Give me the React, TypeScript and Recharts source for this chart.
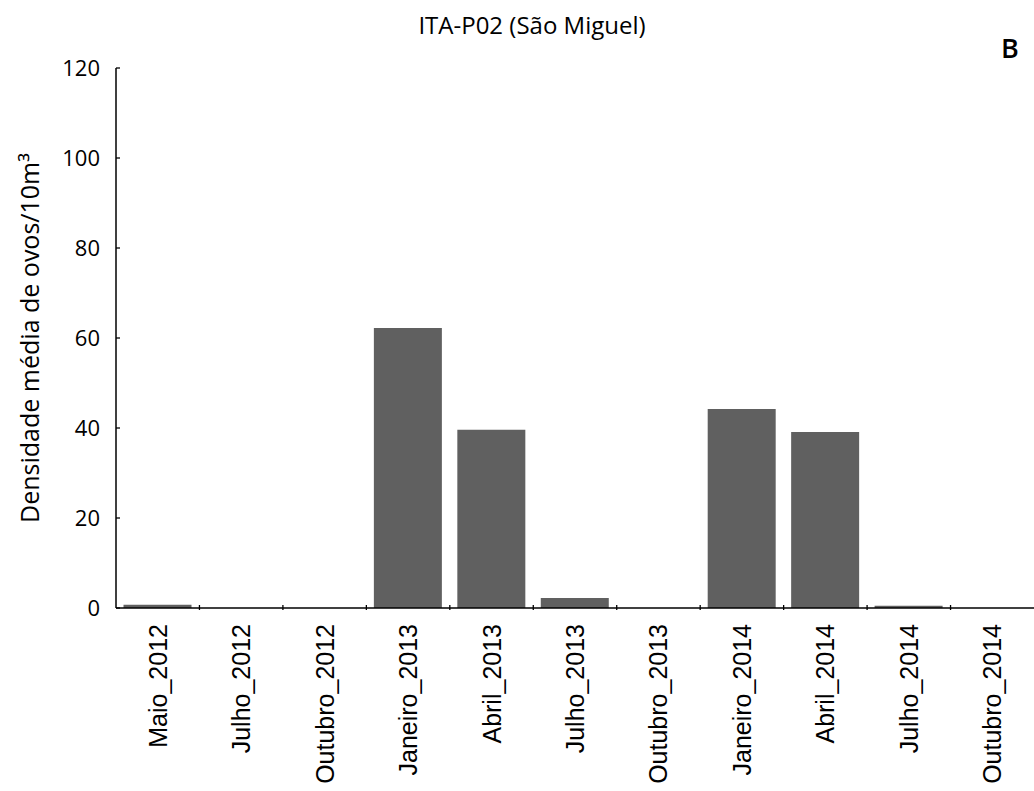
import React from "react";
import { BarChart, Bar, XAxis, YAxis, Label } from "recharts";

const categories = [
  "Maio_2012",
  "Julho_2012",
  "Outubro_2012",
  "Janeiro_2013",
  "Abril_2013",
  "Julho_2013",
  "Outubro_2013",
  "Janeiro_2014",
  "Abril_2014",
  "Julho_2014",
  "Outubro_2014",
];
const densities = [0.7, 0, 0, 62.2, 39.6, 2.2, 0, 44.2, 39.1, 0.5, 0];
const yTicks = [0, 20, 40, 60, 80, 100, 120];
const title = "ITA-P02 (São Miguel)";
const panelLetter = "B";
const yLabel = "Densidade média de ovos/10m³";

const data = categories.map((c, i) => ({ name: c, value: densities[i] }));

const XTick = (props: any) => {
  const { x, y, payload, index } = props;
  const off = payload && typeof payload.offset === "number" ? payload.offset : 0;
  const last = index === categories.length - 1;
  return (
    <g>
      {!last && (
        <line x1={x + off} x2={x + off} y1={y} y2={y - 5} stroke="#000" strokeWidth={1.3} />
      )}
      <g transform={`translate(${x},${y + 14}) rotate(-90)`}>
        <text
          x={0}
          y={0}
          dy="0.36em"
          textAnchor="end"
          fontFamily="'Liberation Sans', Arial, sans-serif"
          fontSize={25}
          fill="#000"
        >
          {payload.value}
        </text>
      </g>
    </g>
  );
};

const YTick = (props: any) => {
  const { x, y, payload } = props;
  return (
    <g>
      <line x1={x + 16} x2={x + 20} y1={y} y2={y} stroke="#000" strokeWidth={1.3} />
      <text
        x={x}
        y={y}
        dy="0.36em"
        textAnchor="end"
        fontFamily="'Open Sans', sans-serif"
        fontSize={22}
        fill="#000"
      >
        {payload.value}
      </text>
    </g>
  );
};

export default function App() {
  return (
    <div style={{ position: "absolute", left: 0, top: 0, width: 1034, height: 791, background: "#fff" }}>
      <BarChart
        width={1034}
        height={791}
        data={data}
        margin={{ top: 68, right: 0, bottom: 0, left: 0 }}
        barCategoryGap="9%"
      >
        <XAxis
          dataKey="name"
          height={183}
          interval={0}
          tickLine={false}
          tickSize={0}
          axisLine={{ stroke: "#000", strokeWidth: 1.5 }}
          tick={<XTick />}
        />
        <YAxis
          width={116}
          domain={[0, 120]}
          ticks={yTicks}
          interval={0}
          tickLine={false}
          tickSize={0}
          tickMargin={16}
          axisLine={{ stroke: "#000", strokeWidth: 1.5 }}
          tick={<YTick />}
        >
          <Label
            value={yLabel}
            angle={-90}
            position="insideLeft"
            offset={30}
            style={{ textAnchor: "middle", fontFamily: "'Open Sans', sans-serif", fontSize: 25, fill: "#000" }}
          />
        </YAxis>
        <Bar dataKey="value" fill="#606060" isAnimationActive={false} />
      </BarChart>
      <div
        style={{
          position: "absolute",
          left: 0,
          width: 1064,
          top: 8,
          textAlign: "center",
          fontFamily: "'Open Sans', sans-serif",
          fontSize: 24,
          lineHeight: "34px",
          color: "#000",
        }}
      >
        {title}
      </div>
      <div
        style={{
          position: "absolute",
          left: 1001,
          top: 30,
          fontFamily: "'Open Sans', sans-serif",
          fontSize: 27,
          fontWeight: 600,
          lineHeight: "36px",
          color: "#000",
        }}
      >
        {panelLetter}
      </div>
    </div>
  );
}
